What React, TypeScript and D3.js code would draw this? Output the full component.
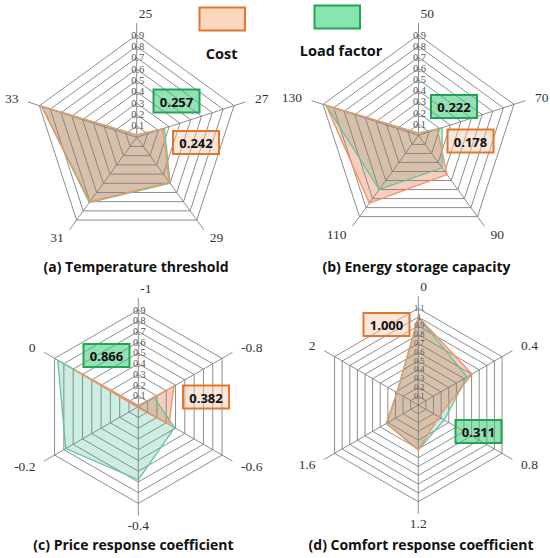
import React from 'react';
import * as d3 from 'd3';

// ---- data ----
const catsA = ['25', '27', '29', '31', '33'];
const costA = [0.02, 0.242, 0.49, 0.7, 0.88];
const loadA = [0.02, 0.257, 0.5, 0.71, 0.88];

const catsB = ['50', '70', '90', '110', '130'];
const costB = [0.02, 0.178, 0.435, 0.75, 0.87];
const loadB = [0.02, 0.222, 0.36, 0.6, 0.87];

const catsC = ['-1', '-0.8', '-0.6', '-0.4', '-0.2', '0'];
const costC = [0.01, 0.382, 0.33, 0.01, 0.01, 0.687];
const loadC = [0.01, 0.17, 0.39, 0.68, 0.78, 0.866];

const catsD = ['0', '0.4', '0.8', '1.2', '1.6', '2'];
const costD = [1.0, 0.705, 0.27, 0.51, 0.42, 0.28];
const loadD = [1.0, 0.64, 0.34, 0.51, 0.42, 0.28];

const ticks09 = ['0.1', '0.2', '0.3', '0.4', '0.5', '0.6', '0.7', '0.8', '0.9'];
const ticks11 = ['0.1', '0.2', '0.3', '0.4', '0.5', '0.6', '0.7', '0.8', '0.9', '1', '1.1'];

const titles = [
  '(a) Temperature threshold',
  '(b) Energy storage capacity',
  '(c) Price response coefficient',
  '(d) Comfort response coefficient',
];

// highlighted values in the call-out boxes
const calloutCost = ['0.242', '0.178', '0.382', '1.000'];
const calloutLoad = ['0.257', '0.222', '0.866', '0.311'];

const seriesNames = ['Cost', 'Load factor'];

// ---- styles ----
const GRID = '#808080';
const COST_FILL = 'rgb(235,112,69)';
const COST_LINE = '#f0956a';
const LOAD_FILL = 'rgb(128,210,180)';
const LOAD_LINE = '#5fc59e';
const SERIF = '"Liberation Serif", "Times New Roman", serif';
const SANS = '"Open Sans", "Noto Sans", sans-serif';

interface PanelProps {
  cx: number;
  cy: number;
  R: number;
  cats: string[];
  cost: number[];
  load: number[];
  ticks: string[];
  title: string;
  titleX: number;
  titleY: number;
  loadBox: [number, number];
  costBox: [number, number];
  loadLabel: string;
  costLabel: string;
}

const Callout: React.FC<{ x: number; y: number; text: string; kind: 'cost' | 'load' }> = ({ x, y, text, kind }) => (
  <g>
    <rect
      x={x}
      y={y}
      width={46}
      height={23}
      fill={kind === 'cost' ? 'rgb(248,200,170)' : 'rgb(60,200,120)'}
      fillOpacity={kind === 'cost' ? 0.45 : 0.55}
      stroke={kind === 'cost' ? '#e0782c' : '#22a455'}
      strokeWidth={2}
    />
    <text
      x={x + 23}
      y={y + 12}
      textAnchor="middle"
      dominantBaseline="central"
      fontFamily={SANS}
      fontWeight={700}
      fontSize={13}
      fill="#111"
    >
      {text}
    </text>
  </g>
);

const RadarPanel: React.FC<PanelProps> = (p) => {
  const n = p.cats.length;
  const maxV = +p.ticks[p.ticks.length - 1];
  const r = d3.scaleLinear().domain([0, maxV]).range([0, p.R]);
  const angle = (i: number) => (i * 2 * Math.PI) / n;

  const radial = d3
    .lineRadial<number>()
    .angle((_, i) => angle(i))
    .radius((d) => r(d))
    .curve(d3.curveLinearClosed);

  const levels = p.ticks.map((t) => +t);
  // tick label size follows ring spacing (crowded in the 1.1 panel)
  const tickFont = Math.min(10.5, (p.R / p.ticks.length) * 0.95);

  return (
    <g transform={`translate(${p.cx},${p.cy})`}>
      {/* series fills */}
      <path d={radial(p.load) || ''} fill={LOAD_FILL} fillOpacity={0.4} />
      <path d={radial(p.cost) || ''} fill={COST_FILL} fillOpacity={0.35} />

      {/* rings */}
      {levels.map((lv) => (
        <path
          key={lv}
          d={radial(new Array(n).fill(lv)) || ''}
          fill="none"
          stroke={GRID}
          strokeWidth={0.9}
        />
      ))}

      {/* spokes */}
      {p.cats.map((c, i) => {
        const a = angle(i);
        const len = p.R + 12;
        return (
          <line
            key={c}
            x1={0}
            y1={0}
            x2={len * Math.sin(a)}
            y2={-len * Math.cos(a)}
            stroke={GRID}
            strokeWidth={0.9}
          />
        );
      })}

      {/* series outlines */}
      <path d={radial(p.load) || ''} fill="none" stroke={LOAD_LINE} strokeWidth={1.3} />
      <path d={radial(p.cost) || ''} fill="none" stroke={COST_LINE} strokeWidth={1.4} />

      {/* radial tick labels */}
      {p.ticks.map((t) => (
        <text
          key={t}
          x={1}
          y={-r(+t)}
          textAnchor="middle"
          dominantBaseline="central"
          fontFamily={SERIF}
          fontSize={tickFont}
          fill="#555"
        >
          {t}
        </text>
      ))}

      {/* category labels */}
      {p.cats.map((c, i) => {
        const a = angle(i);
        const dx = Math.sin(a);
        const dy = -Math.cos(a);
        const t = p.R + 22;
        let anchor: 'start' | 'middle' | 'end' = 'middle';
        let x = t * dx;
        if (dx > 0.3) anchor = 'start';
        else if (dx < -0.3) anchor = 'end';
        else if (dy < 0) {
          anchor = 'start';
          x = 2;
        }
        return (
          <text
            key={c}
            x={x}
            y={t * dy}
            textAnchor={anchor}
            dominantBaseline="central"
            fontFamily={SERIF}
            fontSize={13.5}
            fill="#333"
          >
            {c}
          </text>
        );
      })}

      <Callout x={p.loadBox[0] - p.cx} y={p.loadBox[1] - p.cy} text={p.loadLabel} kind="load" />
      <Callout x={p.costBox[0] - p.cx} y={p.costBox[1] - p.cy} text={p.costLabel} kind="cost" />

      <text
        x={p.titleX - p.cx}
        y={p.titleY - p.cy}
        textAnchor="middle"
        fontFamily={SANS}
        fontWeight={700}
        fontSize={14}
        fill="#111"
      >
        {p.title}
      </text>
    </g>
  );
};

const App: React.FC = () => {
  return (
    <svg
      width={550}
      height={558}
      viewBox="0 0 550 558"
      style={{ position: 'absolute', left: 0, top: 0, background: '#fff' }}
    >
      <RadarPanel
        cx={136.7} cy={137.3} R={102.3}
        cats={catsA} cost={costA} load={loadA} ticks={ticks09}
        title={titles[0]} titleX={136} titleY={272}
        loadBox={[153.5, 89.5]} costBox={[173, 131]}
        loadLabel={calloutLoad[0]} costLabel={calloutCost[0]}
      />
      <RadarPanel
        cx={418.5} cy={135.4} R={100.4}
        cats={catsB} cost={costB} load={loadB} ticks={ticks09}
        title={titles[1]} titleX={416.5} titleY={272}
        loadBox={[431, 95]} costBox={[447.5, 129.5]}
        loadLabel={calloutLoad[1]} costLabel={calloutCost[1]}
      />
      <RadarPanel
        cx={138.3} cy={406.7} R={96.7}
        cats={catsC} cost={costC} load={loadC} ticks={ticks09}
        title={titles[2]} titleX={133.5} titleY={550}
        loadBox={[83.5, 344]} costBox={[183, 385.5]}
        loadLabel={calloutLoad[2]} costLabel={calloutCost[2]}
      />
      <RadarPanel
        cx={418.3} cy={405} R={96.7}
        cats={catsD} cost={costD} load={loadD} ticks={ticks11}
        title={titles[3]} titleX={421} titleY={550}
        loadBox={[455.5, 420]} costBox={[363.5, 313]}
        loadLabel={calloutLoad[3]} costLabel={calloutCost[3]}
      />

      {/* legend */}
      <rect x={199.5} y={7.5} width={45.5} height={23} fill="rgb(250,215,190)" stroke="#e0782c" strokeWidth={2} />
      <text x={221.7} y={53} textAnchor="middle" dominantBaseline="central" fontFamily={SANS} fontWeight={700} fontSize={14.5} fill="#111">
        {seriesNames[0]}
      </text>
      <rect x={314.5} y={5.5} width={45.5} height={23} fill="rgb(135,230,175)" stroke="#22a455" strokeWidth={2} />
      <text x={341} y={50} textAnchor="middle" dominantBaseline="central" fontFamily={SANS} fontWeight={700} fontSize={14.5} fill="#111">
        {seriesNames[1]}
      </text>
    </svg>
  );
};

export default App;
